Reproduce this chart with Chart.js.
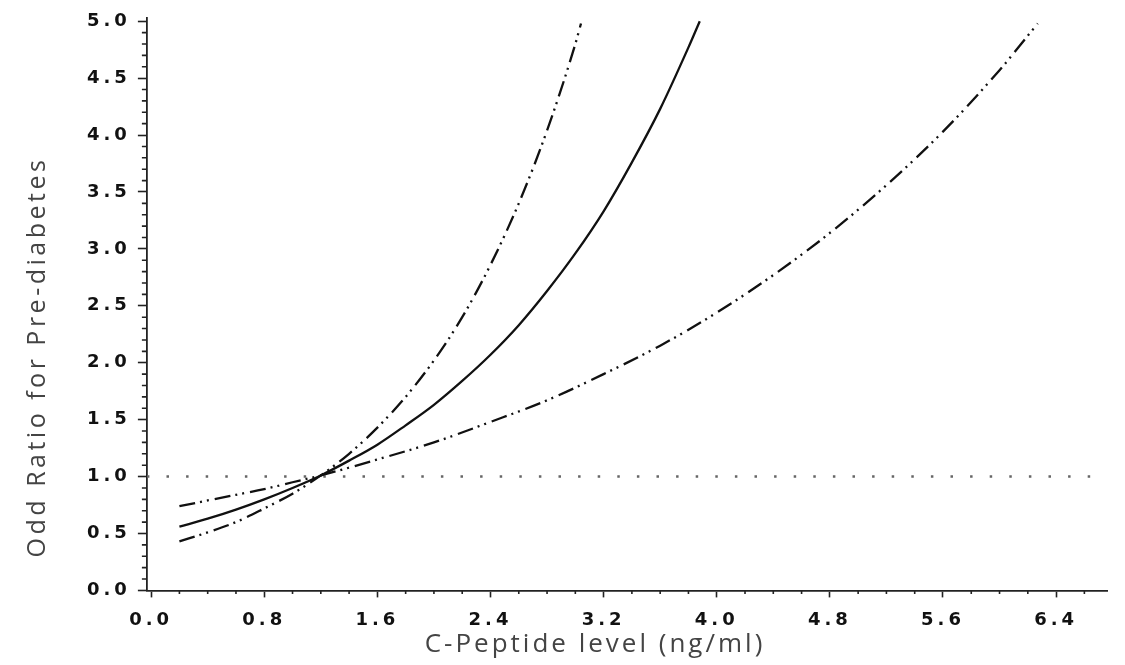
<!DOCTYPE html>
<html>
<head>
<meta charset="utf-8">
<script src="https://cdn.jsdelivr.net/npm/chart.js@4.4.1/dist/chart.umd.min.js"></script>
<style>
  html, body { margin: 0; padding: 0; background: #fff; }
  #wrap { width: 1125px; height: 665px; }
</style>
</head>
<body>
<div id="wrap"><canvas id="orChart" width="1125" height="665"></canvas></div>
<script>
// Datos (OR e IC 95%)
const xTicks = [0.0, 0.8, 1.6, 2.4, 3.2, 4.0, 4.8, 5.6, 6.4];
const yTicks = [0.0, 0.5, 1.0, 1.5, 2.0, 2.5, 3.0, 3.5, 4.0, 4.5, 5.0];

// curva central (OR)
const xOR = [0.2, 0.4, 0.6, 0.8, 1.0, 1.2, 1.4, 1.6, 1.8, 2.0, 2.2, 2.4, 2.6, 2.8, 3.0, 3.2, 3.4, 3.6, 3.8, 3.88];
const yOR = [0.56, 0.63, 0.71, 0.80, 0.90, 1.01, 1.14, 1.28, 1.45, 1.63, 1.84, 2.07, 2.33, 2.63, 2.96, 3.33, 3.76, 4.23, 4.77, 5.00];

// límite superior
const xUpper = [0.2, 0.4, 0.6, 0.8, 1.0, 1.2, 1.4, 1.6, 1.8, 2.0, 2.2, 2.4, 2.6, 2.8, 3.0, 3.04];
const yUpper = [0.43, 0.51, 0.60, 0.72, 0.85, 1.01, 1.20, 1.43, 1.70, 2.02, 2.40, 2.86, 3.40, 4.04, 4.80, 4.98];

// límite inferior
const xLower = [0.2, 0.4, 0.6, 0.8, 1.0, 1.2, 1.6, 2.0, 2.4, 2.8, 3.2, 3.6, 4.0, 4.4, 4.8, 5.2, 5.6, 6.0, 6.27];
const yLower = [0.74, 0.79, 0.84, 0.89, 0.95, 1.01, 1.15, 1.30, 1.48, 1.67, 1.90, 2.15, 2.44, 2.77, 3.14, 3.56, 4.03, 4.57, 4.98];

// línea de referencia OR = 1
const xRef = [-0.03, 6.76];
const yRef = [1.0, 1.0];

const xTitulo = 'C-Peptide level (ng/ml)';
const yTitulo = 'Odd Ratio for Pre-diabetes';

function puntos(xs, ys) {
    return xs.map((x, i) => ({ x: x, y: ys[i] }));
}

// espaciado de letras para imitar la tipografía ancha del original
const espaciado = {
    id: 'espaciado',
    beforeLayout(chart) { chart.ctx.letterSpacing = '4px'; },
    beforeDraw(chart) { chart.ctx.letterSpacing = '4px'; }
};

// marcas menores de los ejes
const marcasMenores = {
    id: 'marcasMenores',
    afterDraw(chart) {
        const ctx = chart.ctx;
        const sx = chart.scales.x;
        const sy = chart.scales.y;
        ctx.save();
        ctx.strokeStyle = '#222';
        ctx.lineWidth = 1.6;
        ctx.beginPath();
        for (let i = 0; i <= 33; i++) {
            if (i % 4 === 0) continue;
            const px = sx.getPixelForValue(i * 0.2);
            ctx.moveTo(px, sx.top);
            ctx.lineTo(px, sx.top + 3.5);
        }
        for (let i = 0; i <= 50; i++) {
            if (i % 5 === 0) continue;
            const py = sy.getPixelForValue(i * 0.1);
            ctx.moveTo(sy.right, py);
            ctx.lineTo(sy.right - 5, py);
        }
        ctx.stroke();
        ctx.restore();
    }
};

// títulos de los ejes
const titulos = {
    id: 'titulos',
    afterDraw(chart) {
        const ctx = chart.ctx;
        ctx.save();
        ctx.fillStyle = '#444';
        ctx.textAlign = 'center';
        ctx.textBaseline = 'middle';
        ctx.letterSpacing = '3px';
        ctx.font = '26px "Open Sans"';
        ctx.fillText(xTitulo, 595, 645);
        ctx.translate(38, 357);
        ctx.rotate(-Math.PI / 2);
        ctx.letterSpacing = '3.5px';
        ctx.font = '25px "Open Sans"';
        ctx.fillText(yTitulo, 0, 0);
        ctx.restore();
    }
};

const estiloCurva = {
    borderColor: '#111',
    borderWidth: 2.3,
    pointRadius: 0,
    fill: false,
    cubicInterpolationMode: 'monotone'
};

const ctx = document.getElementById('orChart').getContext('2d');
const grafico = new Chart(ctx, {
    type: 'line',
    data: {
        datasets: [
            Object.assign({ label: 'OR', data: puntos(xOR, yOR) }, estiloCurva),
            Object.assign({ label: 'Upper', data: puntos(xUpper, yUpper), borderDash: [16, 5, 2, 5, 2, 6] }, estiloCurva),
            Object.assign({ label: 'Lower', data: puntos(xLower, yLower), borderDash: [16, 5, 2, 5, 2, 6] }, estiloCurva),
            {
                label: 'Ref', data: puntos(xRef, yRef),
                borderColor: '#666', borderWidth: 2.5, borderDash: [2.5, 17.1],
                pointRadius: 0, fill: false
            }
        ]
    },
    options: {
        responsive: false,
        devicePixelRatio: 1,
        animation: false,
        layout: { padding: { left: 80, right: 18, top: -5, bottom: 22 } },
        plugins: {
            legend: { display: false },
            tooltip: { enabled: false }
        },
        scales: {
            x: {
                type: 'linear',
                min: -0.03,
                max: 6.76,
                afterBuildTicks: axis => { axis.ticks = xTicks.map(v => ({ value: v })); },
                border: { display: true, color: '#222', width: 1.8 },
                grid: { display: true, drawOnChartArea: false, drawTicks: true, tickLength: 7, tickColor: '#222', tickWidth: 1.6 },
                ticks: {
                    color: '#111',
                    font: { family: 'DejaVu Sans', size: 18, weight: 'bold' },
                    padding: 12,
                    maxRotation: 0,
                    callback: v => v.toFixed(1)
                }
            },
            y: {
                type: 'linear',
                min: 0,
                max: 5.03,
                afterBuildTicks: axis => { axis.ticks = yTicks.map(v => ({ value: v })); },
                border: { display: true, color: '#222', width: 1.8 },
                grid: { display: true, drawOnChartArea: false, drawTicks: true, tickLength: 9, tickColor: '#222', tickWidth: 1.6 },
                ticks: {
                    color: '#111',
                    font: { family: 'DejaVu Sans', size: 18, weight: 'bold' },
                    padding: 7,
                    callback: v => v.toFixed(1)
                }
            }
        }
    },
    plugins: [espaciado, marcasMenores, titulos]
});
</script>
</body>
</html>
